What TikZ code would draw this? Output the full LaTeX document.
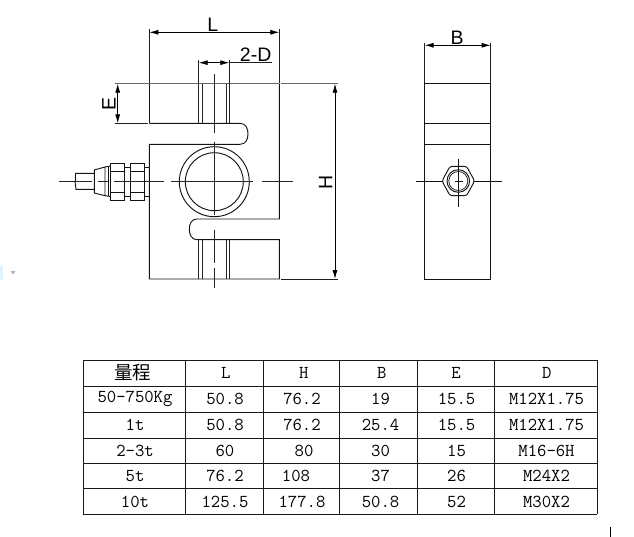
\documentclass[tikz,border=0pt]{standalone}
\usepackage{fontspec}
\setmainfont{Liberation Sans}
\newfontfamily\cjk{Noto Sans CJK SC}
\usetikzlibrary{arrows.meta}
\tikzset{
  part/.style={line width=0.95pt,draw=black!92},
  thin part/.style={line width=0.8pt,draw=black!85},
  extline/.style={line width=0.8pt,draw=black!88},
  greyline/.style={line width=1pt,draw=black!60},
  dimline/.style={line width=0.8pt,draw=black,{Latex[length=9pt,width=5pt]}-{Latex[length=9pt,width=5pt]}},
  dimtext/.style={inner sep=0pt,font=\fontsize{19.5}{19.5}\selectfont,text=black},
  cell/.style={inner sep=0pt,font=\ttfamily\fontsize{18.2}{18}\selectfont,text=black},
  gridline/.style={line width=0.95pt,draw=black!90}
}
\begin{document}
\begin{tikzpicture}[x=1pt,y=-1pt]
  \useasboundingbox (0,0) rectangle (634,537);

  \coordinate (Lleft) at (149.3,32.3);
  \coordinate (Lright) at (279.3,32.3);
  \coordinate (Dleft) at (198.7,62.7);
  \coordinate (Dright) at (229.3,62.7);
  \coordinate (Dend) at (271.7,62.7);
  \coordinate (Etop) at (117.7,83.7);
  \coordinate (Ebot) at (117.7,123.3);
  \coordinate (Htop) at (335,83.7);
  \coordinate (Hbot) at (335,279);
  \coordinate (Bleft) at (424.7,45.3);
  \coordinate (Bright) at (490.7,45.3);
  \coordinate (hub) at (214.3,181.7);
  \coordinate (nut) at (458.3,181);

  \draw[part] (149.3,123.3) -- (240,123.3) .. controls (246,123.3) and (248,129) .. (248,133.8)
    .. controls (248,139) and (246,144.3) .. (240,144.3) -- (149.3,144.3) -- (149.3,279) -- (279.3,279)
    -- (279.3,239.7) -- (196.7,239.7) .. controls (191.5,239.7) and (189.3,234) .. (189.3,229.3)
    .. controls (189.3,224) and (191.5,219) .. (196.7,219) -- (279.3,219) -- (279.3,83.7);
  \draw[part] (149.3,83.7) -- (149.3,123.3);
  \draw[greyline] (115,83.7) -- (279.3,83.7);
  \draw[greyline] (281,83.7) -- (338,83.7);
  \draw[extline] (115,123.3) -- (148,123.3);
  \draw[extline] (281,279) -- (338,279);
  \foreach \tx in {198.7,202,226,229.3} {
    \draw[thin part] (\tx,83.7) -- (\tx,123.3);
    \draw[thin part] (\tx,239.7) -- (\tx,279);
  }
  \draw[part] (hub) circle (35pt);
  \draw[part] (hub) circle (29pt);

  \foreach \ca/\cb in {59/92,98/108,114/164,171/253,262/293} {
    \draw[thin part] (\ca,181.7) -- (\cb,181.7);
  }
  \foreach \ca/\cb in {74/133,141.7/215,230/263,268/288} {
    \draw[thin part] (214.3,\ca) -- (214.3,\cb);
  }

  \draw[part] (94.3,173.3) -- (75.5,173.3) .. controls (74,177) and (77,178) .. (75,181.7)
    .. controls (74,185) and (77,186) .. (76,189.3) -- (94.3,189.3);
  \draw[part] (94.3,170) -- (94.3,193) -- (105,195.7) -- (105,167) -- cycle;
  \draw[part] (105,167) -- (110.7,166) (105,195.7) -- (110.7,196.5);
  \draw[part] (108.5,166.5) -- (108.5,196);
  \draw[part] (110.7,163.3) rectangle (124.7,200);
  \draw[part] (110.7,171) -- (124.7,171) (110.7,192.3) -- (124.7,192.3);
  \draw[part] (124.7,167.5) -- (130,167.5) (124.7,196) -- (130,196);
  \draw[part] (130,163.3) rectangle (144,200);
  \draw[part] (130,171) -- (144,171) (130,192.3) -- (144,192.3);
  \draw[part] (144,167) -- (149.3,167) (144,196) -- (149.3,196);

  \draw[extline] (149.3,29) -- (149.3,83);
  \draw[extline] (279.3,29) -- (279.3,83);
  \draw[dimline] (Lleft) -- (Lright);
  \draw[extline] (198.7,60) -- (198.7,83.7);
  \draw[extline] (229.3,60) -- (229.3,83.7);
  \draw[dimline] (Dleft) -- (Dright);
  \draw[extline] (Dright) -- (Dend);
  \draw[dimline] (Etop) -- (Ebot);
  \draw[dimline] (Htop) -- (Hbot);
  \node[dimtext] (labelL) at (212.7,25) {L};
  \node[dimtext] (labelD) at (255.7,55) {2-D};
  \node[dimtext,rotate=90] (labelE) at (109,104) {E};
  \node[dimtext,rotate=90] (labelH) at (325.7,182) {H};

  \draw[part] (424.7,83.3) rectangle (490.7,279);
  \draw[part] (424.7,123.3) -- (490.7,123.3);
  \draw[part] (424.7,144.3) -- (490.7,144.3);
  \draw[extline] (424.7,42.7) -- (424.7,83.3);
  \draw[extline] (490.7,42.7) -- (490.7,83.3);
  \draw[dimline] (Bleft) -- (Bright);
  \node[dimtext] (labelB) at (457,38) {B};
  \draw[part,rounded corners=2.5pt] (442,181) -- (450,166.3) -- (466.6,166.3) -- (474.6,181) -- (466.6,195.7) -- (450,195.7) -- cycle;
  \draw[part] (nut) circle (11.3pt);
  \draw[thin part] (nut) circle (9.5pt);
  \foreach \ca/\cb in {416/443,455/462.7,474/501.7} {
    \draw[part] (\ca,181) -- (\cb,181);
  }
  \draw[part] (458.3,159) -- (458.3,206.7);

  \foreach \rx in {83,185.7,263.3,339.7,417.3,494.7,597.3} {
    \draw[gridline] (\rx,360.3) -- (\rx,514.3);
  }
  \foreach \ry in {360.3,386.3,412.3,438,463.7,488.7,514.3} {
    \draw[gridline] (83,\ry) -- (597.3,\ry);
  }
  \node[cell,font=\cjk\fontsize{18.5}{18}\selectfont] (range) at (132.7,373) {量程};
  \node[cell] (headL) at (225.7,373) {L};
  \node[cell] (headH) at (303.7,373) {H};
  \node[cell] (headB) at (381.7,373) {B};
  \node[cell] (headE) at (456,373) {E};
  \node[cell] (headD) at (546.7,373) {D};
  \foreach \ry/\ra/\rb/\hx/\rc/\rd/\re/\rf [count=\i] in {
    399.3/50-750Kg/50.8/302/76.2/19/15.5/M12X1.75,
    424.5/1t/50.8/302/76.2/25.4/15.5/M12X1.75,
    450.5/2-3t/60/304/80/30/15/M16-6H,
    476/5t/76.2/296/108/37/26/M24X2,
    501.7/10t/125.5/302/177.8/50.8/52/M30X2} {
    \node[cell] (a\i) at (135,\ry) {\ra};
    \node[cell] (b\i) at (225,\ry) {\rb};
    \node[cell] (c\i) at (\hx,\ry) {\rc};
    \node[cell] (d\i) at (380.5,\ry) {\rd};
    \node[cell] (e\i) at (456.5,\ry) {\re};
    \node[cell] (f\i) at (546.5,\ry) {\rf};
  }

  \draw[line width=1.2pt,black] (610.7,527) -- (610.7,537);
  \fill[blue!40!cyan!12] (0,266) rectangle (3,280);
  \fill[black!30] (10.5,271) -- (15.5,271) -- (13,274.5) -- cycle;
\end{tikzpicture}
\end{document}
